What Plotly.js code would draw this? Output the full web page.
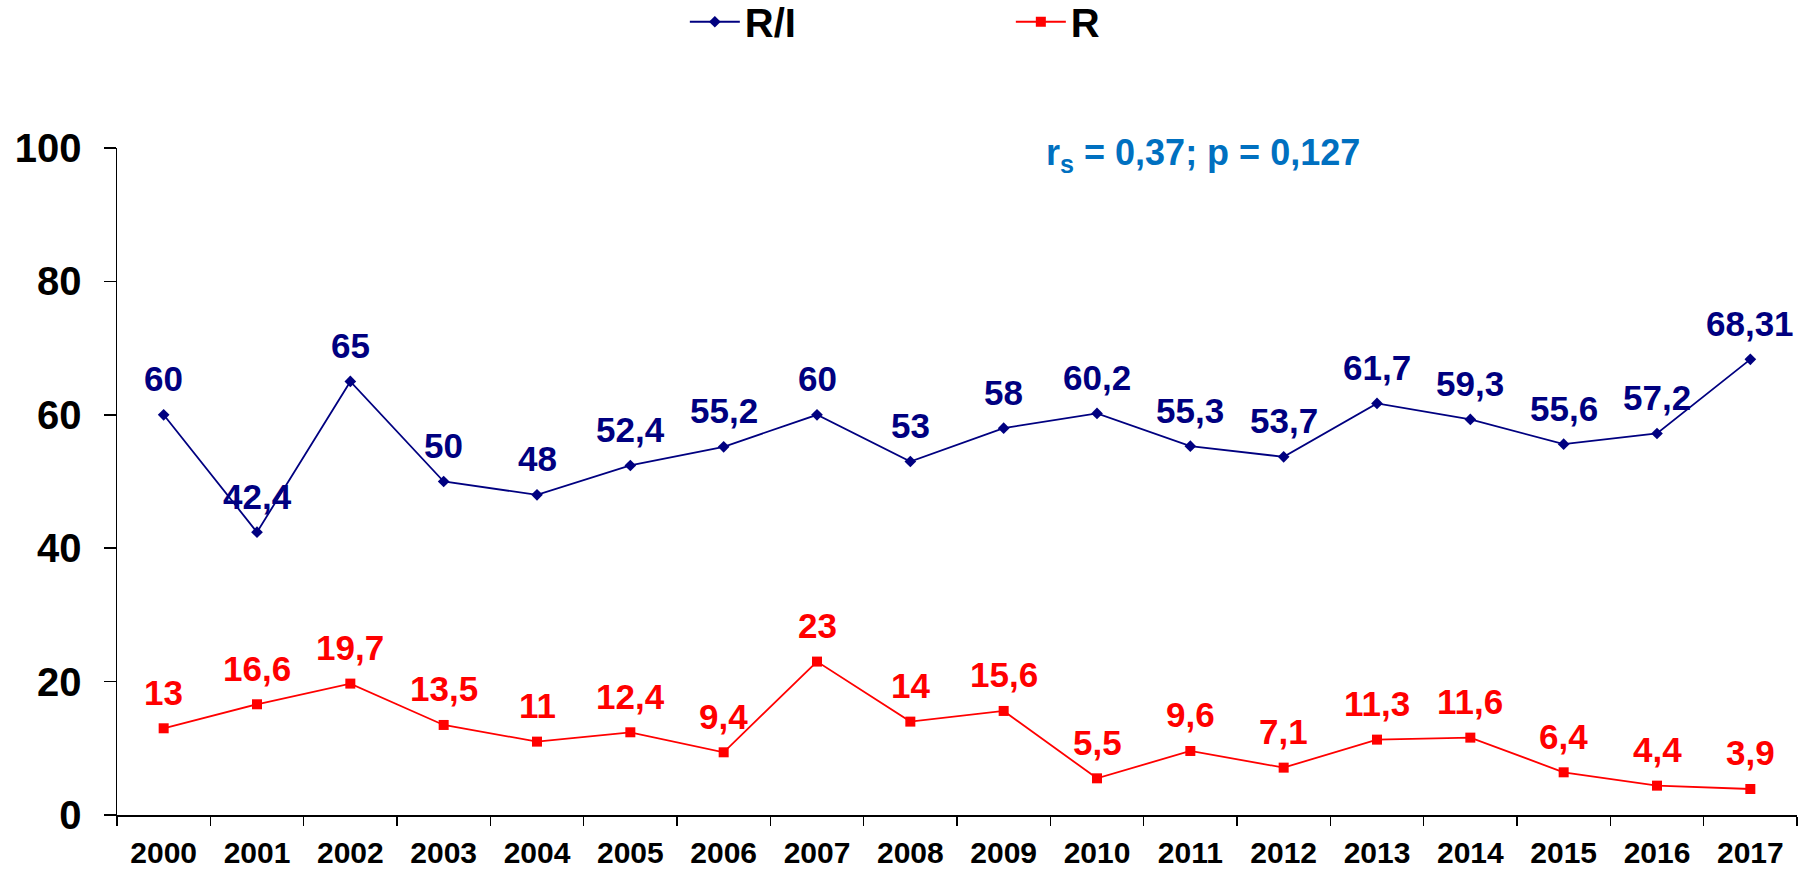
<!DOCTYPE html>
<html>
<head>
<meta charset="utf-8">
<script src="https://cdn.plot.ly/plotly-3.0.1.min.js"></script>
<style>html,body{margin:0;padding:0;background:#fff;}#chart{width:1810px;height:869px;}</style>
</head>
<body>
<div id="chart"></div>
<script>
const years = ['2000','2001','2002','2003','2004','2005','2006','2007','2008','2009','2010','2011','2012','2013','2014','2015','2016','2017'];
const ri = [60, 42.4, 65, 50, 48, 52.4, 55.2, 60, 53, 58, 60.2, 55.3, 53.7, 61.7, 59.3, 55.6, 57.2, 68.31];
const r = [13, 16.6, 19.7, 13.5, 11, 12.4, 9.4, 23, 14, 15.6, 5.5, 9.6, 7.1, 11.3, 11.6, 6.4, 4.4, 3.9];
const yTicks = [0, 20, 40, 60, 80, 100];
const statText = 'r<sub>s</sub> = 0,37; p = 0,127';

const FONT = 'Liberation Sans, Arial, sans-serif';
const NAVY = '#000080';
const RED = '#FF0000';
const fmt = v => String(v).replace('.', ',');

const traces = [
  {x: years, y: ri, name: 'R/I', type: 'scatter', mode: 'lines+markers',
   line: {color: NAVY, width: 1.8}, marker: {symbol: 'diamond', size: 9, color: NAVY}},
  {x: years, y: r, name: 'R', type: 'scatter', mode: 'lines+markers',
   line: {color: RED, width: 1.8}, marker: {symbol: 'square', size: 10, color: RED}}
];

const annotations = [];
ri.forEach((v, i) => annotations.push({x: i, y: v, xref: 'x', yref: 'y', text: fmt(v), showarrow: false,
  yshift: 36, yanchor: 'middle', font: {family: FONT, size: 35, color: NAVY, weight: 'bold'}}));
r.forEach((v, i) => annotations.push({x: i, y: v, xref: 'x', yref: 'y', text: fmt(v), showarrow: false,
  yshift: 36, yanchor: 'middle', font: {family: FONT, size: 35, color: RED, weight: 'bold'}}));
annotations.push({x: 0.6464, y: 0.99, xref: 'paper', yref: 'paper', text: statText, showarrow: false,
  xanchor: 'center', yanchor: 'middle', font: {family: FONT, size: 36, color: '#0070C0', weight: 'bold'}});

const layout = {
  width: 1810, height: 869,
  margin: {l: 117, r: 13, t: 148, b: 54, autoexpand: false},
  paper_bgcolor: '#fff', plot_bgcolor: '#fff',
  showlegend: true,
  legend: {orientation: 'h', x: 0.338, y: 0.975, xref: 'paper', yref: 'container', xanchor: 'left', yanchor: 'middle',
    itemwidth: 50, entrywidth: 261, font: {family: FONT, size: 40, color: '#000', weight: 'bold'}},
  xaxis: {type: 'category', range: [-0.5, years.length - 0.5], autorange: false, tickson: 'boundaries', ticks: 'outside', ticklen: 9, tickcolor: '#000', tickwidth: 1.5,
    showline: true, linecolor: '#000', linewidth: 1.5, showgrid: false, zeroline: false, tickangle: 0,
    tickfont: {family: FONT, size: 30, color: '#000', weight: 'bold'}, ticklabelstandoff: 10},
  yaxis: {range: [0, 100], autorange: false, tickvals: yTicks, ticktext: yTicks.map(String), ticks: 'outside', ticklen: 12, tickcolor: '#000', tickwidth: 1.5,
    showline: true, linecolor: '#000', linewidth: 1.5, showgrid: false, zeroline: false,
    tickfont: {family: FONT, size: 40, color: '#000', weight: 'bold'}, ticklabelstandoff: 14},
  annotations: annotations
};

Plotly.newPlot('chart', traces, layout, {displayModeBar: false, staticPlot: true});
</script>
</body>
</html>
